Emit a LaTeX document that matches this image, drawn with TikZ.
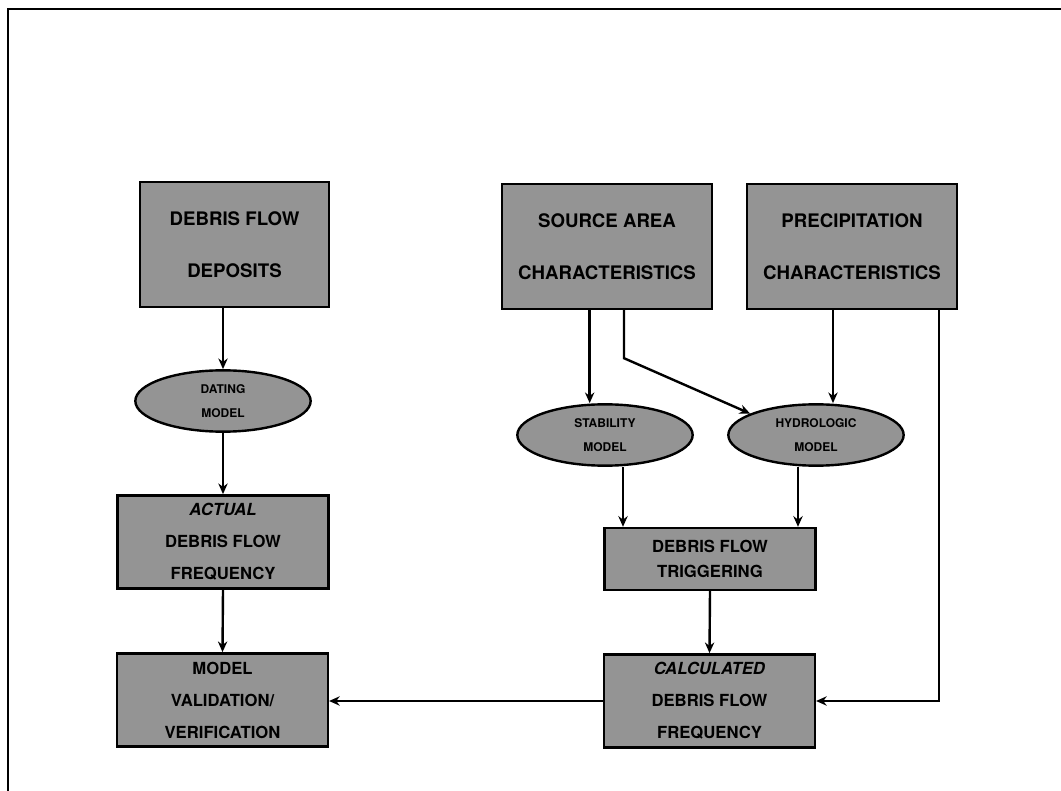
\documentclass[tikz,border=0pt]{standalone}
\usepackage{fontspec}
\setmainfont{TeX Gyre Heros}
\usetikzlibrary{arrows.meta,positioning,calc,shapes.geometric}

\begin{document}
\begin{tikzpicture}[
  x=0.75pt, y=-0.75pt,
  blk/.style={draw=black, line width=1.8pt, fill=black!42, inner sep=0pt,
              align=center, font=\bfseries},
  topbox/.style={blk, minimum width=157.5pt, minimum height=93.75pt,
                 font=\bfseries\fontsize{14}{39}\selectfont},
  midbox/.style={blk, minimum width=158pt, minimum height=70pt,
                 font=\bfseries\fontsize{12.5}{24}\selectfont},
  mdl/.style={blk, ellipse, minimum width=131.5pt, minimum height=46pt,
              font=\bfseries\fontsize{9}{18}\selectfont},
  arr/.style={-{Stealth[length=8pt,width=7pt]}, line width=1.8pt}
]
\useasboundingbox (0,0) rectangle (1061,791);
\draw[line width=1.8pt] (8,791) -- (8,9) -- (1061,9);

% left column
\node[topbox, minimum width=141.75pt] (dep) at (234.5,244.5) {DEBRIS FLOW\\DEPOSITS};
\node[mdl] (dat) at (223,401) {DATING\\MODEL};
\node[midbox] (act) at (223,542) {\textit{ACTUAL}\\DEBRIS FLOW\\FREQUENCY};
\node[midbox] (val) at (222.5,700) {MODEL\\VALIDATION/\\VERIFICATION};

% right part
\node[topbox] (src) at (607,246.5) {SOURCE AREA\\CHARACTERISTICS};
\node[topbox] (prc) at (852,246.5) {PRECIPITATION\\CHARACTERISTICS};
\node[mdl] (stb) at (605,435) {STABILITY\\MODEL};
\node[mdl] (hyd) at (816,435) {HYDROLOGIC\\MODEL};
\node[midbox, minimum height=46.5pt, font=\bfseries\fontsize{12.5}{19}\selectfont] (trg) at (710,559) {DEBRIS FLOW\\TRIGGERING};
\node[midbox] (clc) at (709.5,701) {\textit{CALCULATED}\\DEBRIS FLOW\\FREQUENCY};

\draw[arr] (dat.north |- dep.south) -- (dat.north);
\draw[arr] (dat.south) -- (act.north);
\draw[arr] (act.south) -- (val.north);

\draw[arr] ([xshift=-13pt]src.south) -- ([xshift=-13pt]src.south |- stb.north);
\draw[arr] ([xshift=12.75pt]src.south) -- ++(0,48) -- (hyd.162);
\draw[arr] ([xshift=-14.25pt]prc.south) -- ([xshift=-14.25pt]prc.south |- hyd.north);
\draw[arr] ([xshift=13.5pt]stb.south) -- ([xshift=13.5pt]stb.south |- trg.north);
\draw[arr] ([xshift=-13.5pt]hyd.south) -- ([xshift=-13.5pt]hyd.south |- trg.north);
\draw[arr] (trg.south) -- (clc.north);
\draw[arr] ([xshift=65.25pt]prc.south) |- (clc.east);
\draw[arr] (clc.west) -- (clc.west -| val.east);
\end{tikzpicture}
\end{document}
